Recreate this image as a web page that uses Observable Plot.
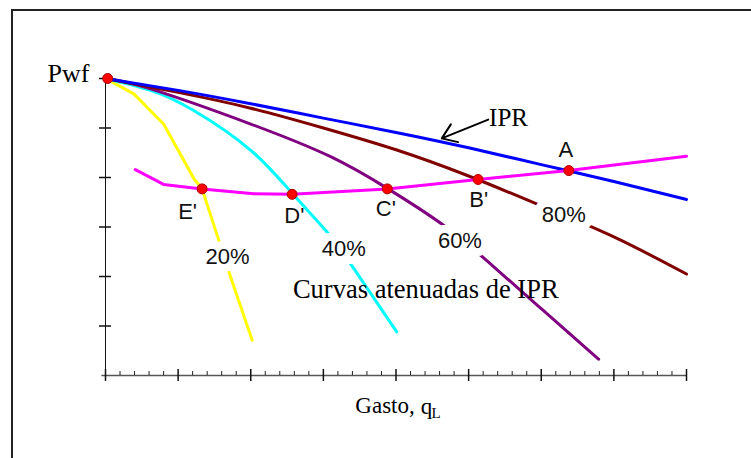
<!DOCTYPE html>
<html><head><meta charset="utf-8">
<script src="https://cdn.jsdelivr.net/npm/d3@7"></script>
<script src="https://cdn.jsdelivr.net/npm/@observablehq/plot@0.6"></script>
<style>
html,body{margin:0;padding:0;background:#fff;}
#wrap{position:relative;width:751px;height:458px;overflow:hidden;background:#fff;}
#frame{position:absolute;left:11px;top:9px;width:900px;height:700px;border-top:2px solid #222;border-left:2px solid #222;pointer-events:none;}
#chart{position:absolute;left:0;top:0;}
</style></head><body>
<div id="wrap"><div id="chart"></div><div id="frame"></div></div>
<script>
// ---- data ----
const iprX = [0, 1, 2, 3, 4, 5, 6, 7, 8];
const iprY = [6, 5.76, 5.49, 5.2, 4.91, 4.6, 4.26, 3.92, 3.556];
const c80X = [0, 1, 2, 3, 4, 5, 6, 7, 8];
const c80Y = [6, 5.72, 5.4, 5.0, 4.56, 4.03, 3.43, 2.8, 2.05];
const c60X = [0, 0.62, 2, 3.1, 3.88, 4.64, 5.25, 6, 6.79];
const c60Y = [6, 5.79, 5.08, 4.42, 3.78, 3.05, 2.32, 1.35, 0.33];
const c40X = [0, 0.62, 1.22, 2.0, 2.57, 3.05, 3.42, 4.01];
const c40Y = [6, 5.76, 5.35, 4.55, 3.68, 2.9, 2.16, 0.88];
const c20X = [0, 0.39, 0.8, 1.22, 1.33, 1.56, 1.72, 2.02];
const c20Y = [6, 5.69, 5.08, 3.97, 3.77, 2.73, 2.0, 0.71];
const locusX = [0.41, 0.8, 1.33, 2.04, 2.57, 3.88, 5.13, 6.38, 8];
const locusY = [4.16, 3.86, 3.77, 3.67, 3.66, 3.77, 3.96, 4.14, 4.43];
const pointX = [0.03, 1.33, 2.57, 3.88, 5.13, 6.38];
const pointY = [6, 3.77, 3.66, 3.77, 3.96, 4.14];
const letterNames = ["E'", "D'", "C'", "B'", "A"];
const letterX = [1.13, 2.6, 3.86, 5.14, 6.34];
const letterY = [3.3, 3.23, 3.36, 3.54, 4.55];
const pctNames = ["20%", "40%", "60%", "80%"];
const pctX = [1.68, 3.28, 4.88, 6.31];
const pctY = [2.39, 2.56, 2.71, 3.24];
const xTicks = [0, 1, 2, 3, 4, 5, 6, 7, 8];
const yTicks = [1, 2, 3, 4, 5, 6];

// ---- build tables ----
const toRows = (xs, ys) => xs.map((x, i) => ({x, y: ys[i]}));
const points = toRows(pointX, pointY);
const letters = letterNames.map((n, i) => ({name: n, x: letterX[i], y: letterY[i]}));
const pcts = pctNames.map((n, i) => ({name: n, x: pctX[i], y: pctY[i]}));
const minorTicks = d3.range(0, 8.001, 0.2).filter(v => Math.abs(v - Math.round(v)) > 1e-6);

const W = 751, H = 458, mL = 105, mR = 65, mT = 78, mB = 83;
const px = 8 / (W - mL - mR);   // data units per pixel (x)
const py = 6 / (H - mT - mB);   // data units per pixel (y)

const serif = "'Liberation Serif', 'Times New Roman', serif";
const sans = "'Liberation Sans', Arial, sans-serif";

const chart = Plot.plot({
  width: W, height: H,
  marginLeft: mL, marginRight: mR, marginTop: mT, marginBottom: mB,
  x: {domain: [0, 8], axis: null},
  y: {domain: [0, 6], axis: null},
  style: {background: "transparent", overflow: "visible"},
  marks: [
    // axes
    Plot.ruleY([0], {x1: -0.05, x2: 8, stroke: "#555", strokeWidth: 1.5}),
    Plot.ruleX([0], {y1: 0, y2: 6, stroke: "#111", strokeWidth: 1}),
    Plot.ruleX(xTicks, {x: d => d, y1: -6 * py, y2: 6 * py, stroke: "#111", strokeWidth: 1.5}),
    Plot.ruleX(minorTicks, {x: d => d, y1: 0, y2: 4 * py, stroke: "#222", strokeWidth: 1}),
    Plot.ruleY(yTicks, {y: d => d, x1: -6 * px, x2: 6 * px, stroke: "#111", strokeWidth: 1.5}),
    // curves
    Plot.line(toRows(c20X, c20Y), {x: "x", y: "y", stroke: "#ffff00", strokeWidth: 3}),
    Plot.line(toRows(c40X, c40Y), {x: "x", y: "y", stroke: "#00ffff", strokeWidth: 3, curve: "natural"}),
    Plot.line(toRows(c60X, c60Y), {x: "x", y: "y", stroke: "#800080", strokeWidth: 3, curve: "natural"}),
    Plot.line(toRows(c80X, c80Y), {x: "x", y: "y", stroke: "#800000", strokeWidth: 3, curve: "natural"}),
    Plot.line(toRows(iprX, iprY), {x: "x", y: "y", stroke: "#0000ff", strokeWidth: 3, curve: "natural"}),
    Plot.line(toRows(locusX, locusY), {x: "x", y: "y", stroke: "#ff00ff", strokeWidth: 3}),
    // percent labels with white knock-out
    Plot.text(pcts, {x: "x", y: "y", text: "name", fontFamily: sans, fontSize: 22, fill: "#111",
      stroke: "white", strokeWidth: 16, strokeLinejoin: "round"}),
    // points
    Plot.dot(points, {x: "x", y: "y", r: 5, fill: "#ff0000", stroke: "#b00000", strokeWidth: 1}),
    Plot.text(letters, {x: "x", y: "y", text: "name", fontFamily: sans, fontSize: 22, fill: "#111"}),
    // IPR annotation
    Plot.arrow([{x1: 5.27, y1: 5.17, x2: 4.63, y2: 4.79}], {x1: "x1", y1: "y1", x2: "x2", y2: "y2",
      stroke: "#000", strokeWidth: 2, headLength: 14, headAngle: 70}),
    Plot.text(["IPR"], {x: 5.55, y: 5.2, text: d => d, fontFamily: serif, fontSize: 25, fill: "#000"}),
    Plot.text(["Curvas atenuadas de IPR"], {x: 4.41, y: 1.74, text: d => d, fontFamily: serif, fontSize: 26.5, fill: "#000"}),
    // axis titles
    Plot.text(["Pwf"], {x: -0.22, y: 6.1, text: d => d, textAnchor: "end", fontFamily: serif, fontSize: 26, fill: "#000"}),
    Plot.text(["Gasto,"], {x: 3.44, y: -0.6, text: d => d, textAnchor: "start", fontFamily: serif, fontSize: 23, fill: "#000"}),
    Plot.text(["q"], {x: 4.34, y: -0.63, text: d => d, textAnchor: "start", fontFamily: serif, fontSize: 23, fill: "#000"}),
    Plot.text(["L"], {x: 4.49, y: -0.76, text: d => d, textAnchor: "start", fontFamily: serif, fontSize: 15, fill: "#000"})
  ]
});
document.getElementById("chart").appendChild(chart);
</script>
</body></html>
